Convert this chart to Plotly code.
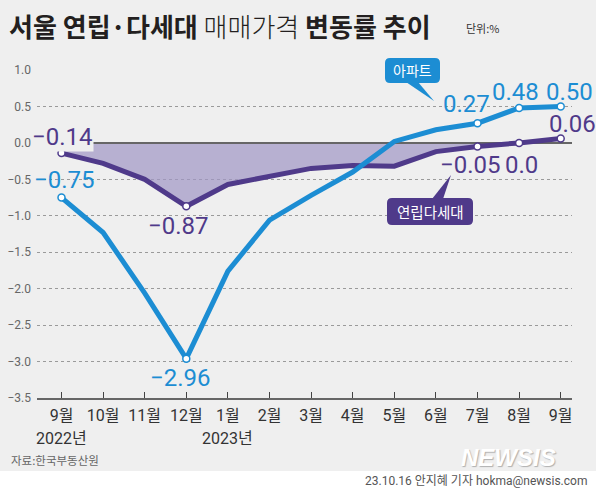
import plotly.graph_objects as go

# ---------------- data ----------------
months = ["9월", "10월", "11월", "12월", "1월", "2월", "3월", "4월", "5월", "6월", "7월", "8월", "9월"]
apt_values = [-0.75, -1.23, -2.06, -2.96, -1.76, -1.06, -0.72, -0.40, 0.02, 0.18, 0.27, 0.48, 0.50]
villa_values = [-0.14, -0.28, -0.50, -0.87, -0.57, -0.46, -0.35, -0.31, -0.32, -0.12, -0.05, 0.00, 0.06]
apt_label_idx = [0, 3, 10, 11, 12]
apt_label_text = ["−0.75", "−2.96", "0.27", "0.48", "0.50"]
villa_label_idx = [0, 3, 10, 11, 12]
villa_label_text = ["−0.14", "−0.87", "−0.05", "0.0", "0.06"]
year_labels = {0: "2022년", 4: "2023년"}
y_ticks = [1.0, 0.5, 0.0, -0.5, -1.0, -1.5, -2.0, -2.5, -3.0, -3.5]

# ---------------- style ----------------
BLUE = "#1c8dd3"
PURPLE = "#4f3a8a"
FILL = "rgba(160,150,196,0.70)"
BG = "#efefef"
NARROW = "Roboto, Liberation Sans Narrow, Noto Sans CJK KR, sans-serif"
KR = "Noto Sans CJK KR, Noto Sans, sans-serif"

W, H = 596, 491
L, R, T, B = 37, 572, 70, 398  # plot area pixels
X0_PX, DX_PX = 61.5, 41.6


def px(x):
    return (x - L) / (R - L)


def py(y):
    return (B - y) / (B - T)


x_idx = list(range(len(months)))
x_range = [(L - X0_PX) / DX_PX, (R - X0_PX) / DX_PX]
zero_end = (580 - X0_PX) / DX_PX

fig = go.Figure()

# zero baseline for fill
fig.add_trace(go.Scatter(x=x_idx, y=[0] * len(x_idx), mode="lines",
                         line=dict(width=0, color=BG), hoverinfo="skip", showlegend=False))
fig.add_trace(go.Scatter(x=x_idx, y=[min(v, 0) for v in villa_values], mode="lines",
                         line=dict(width=0), fill="tonexty", fillcolor=FILL,
                         hoverinfo="skip", showlegend=False))
# visible zero line (above fill, below data lines)
fig.add_trace(go.Scatter(x=[x_idx[0], zero_end], y=[0, 0], mode="lines", cliponaxis=False,
                         line=dict(width=2, color="#666"), hoverinfo="skip", showlegend=False))
# villa line
fig.add_trace(go.Scatter(x=x_idx, y=villa_values, mode="lines",
                         line=dict(color=PURPLE, width=5), showlegend=False))
# apartment line
fig.add_trace(go.Scatter(x=x_idx, y=apt_values, mode="lines",
                         line=dict(color=BLUE, width=5), showlegend=False))
# markers
fig.add_trace(go.Scatter(x=villa_label_idx, y=[villa_values[i] for i in villa_label_idx], mode="markers",
                         marker=dict(size=7, color="white", line=dict(color=PURPLE, width=1.5)),
                         showlegend=False, cliponaxis=False))
fig.add_trace(go.Scatter(x=apt_label_idx, y=[apt_values[i] for i in apt_label_idx], mode="markers",
                         marker=dict(size=7, color="white", line=dict(color=BLUE, width=1.5)),
                         showlegend=False, cliponaxis=False))

annotations = []
# value labels (pixel offsets from their points)
villa_shift = [(1, 16), (-7.5, -20), (-7, -18.5), (2, -22), (12, 14.5)]
apt_shift = [(3, 17.6), (-5.5, -19), (-11, 19), (-4, 16), (9, 14)]
for k, i in enumerate(villa_label_idx):
    annotations.append(dict(x=i, y=villa_values[i], xref="x", yref="y", text=villa_label_text[k],
                            showarrow=False, xshift=villa_shift[k][0], yshift=villa_shift[k][1],
                            xanchor="center", yanchor="middle",
                            font=dict(family=NARROW, size=24, color=PURPLE),
                            bgcolor=BG if k == 0 else None, borderpad=0))
for k, i in enumerate(apt_label_idx):
    annotations.append(dict(x=i, y=apt_values[i], xref="x", yref="y", text=apt_label_text[k],
                            showarrow=False, xshift=apt_shift[k][0], yshift=apt_shift[k][1],
                            xanchor="center", yanchor="middle",
                            font=dict(family=NARROW, size=24, color=BLUE)))

# year labels
for i, t in year_labels.items():
    annotations.append(dict(x=i, y=py(438), xref="x", yref="paper", text=t, showarrow=False,
                            xanchor="center", yanchor="middle",
                            font=dict(family=NARROW, size=16, color="#333")))

# title
annotations.append(dict(x=px(7), y=py(25), xref="paper", yref="paper", xanchor="left", yanchor="middle",
                        text="<b>서울 연립·다세대</b> <span style='font-weight:300'>매매가격</span> <b>변동률 추이</b>",
                        showarrow=False, font=dict(family=KR, size=26, color="#231f20")))
annotations.append(dict(x=px(464), y=py(28), xref="paper", yref="paper", xanchor="left", yanchor="middle",
                        text="단위:%", showarrow=False, font=dict(family=KR, size=11, color="#333")))
# source & credit
annotations.append(dict(x=px(9), y=py(460), xref="paper", yref="paper", xanchor="left", yanchor="middle",
                        text="자료:한국부동산원", showarrow=False, font=dict(family=KR, size=11.5, color="#666")))
annotations.append(dict(x=px(589), y=py(481), xref="paper", yref="paper", xanchor="right", yanchor="middle",
                        text="23.10.16 안지혜 기자 hokma@newsis.com", showarrow=False,
                        font=dict(family=NARROW, size=12, color="#555")))
annotations.append(dict(x=px(508), y=py(457), xref="paper", yref="paper", xanchor="center", yanchor="middle",
                        text="<b><i>NEWSIS</i></b>", showarrow=False,
                        font=dict(family="Liberation Sans, Arial, sans-serif", size=24, color="#ffffff",
                                  shadow="1px 1px 1px #b0b0b0")))
# callout box texts
annotations.append(dict(x=px(412.5), y=py(70.5), xref="paper", yref="paper", text="아파트", showarrow=False,
                        xanchor="center", yanchor="middle",
                        font=dict(family=KR, size=14, color="white")))
annotations.append(dict(x=px(430), y=py(211.5), xref="paper", yref="paper", text="연립다세대", showarrow=False,
                        xanchor="center", yanchor="middle",
                        font=dict(family=KR, size=14.5, color="white")))


def rounded_rect(x0, y0, x1, y1, r):
    a, b, c, d = px(x0), px(x1), py(y0), py(y1)
    rx = r / (R - L)
    ry = r / (B - T)
    return (f"M {a+rx},{c} L {b-rx},{c} Q {b},{c} {b},{c-ry} L {b},{d+ry} Q {b},{d} {b-rx},{d} "
            f"L {a+rx},{d} Q {a},{d} {a},{d+ry} L {a},{c-ry} Q {a},{c} {a+rx},{c} Z")


def tri(p1, p2, p3):
    return f"M {px(p1[0])},{py(p1[1])} L {px(p2[0])},{py(p2[1])} L {px(p3[0])},{py(p3[1])} Z"


shapes = [
    # white footer strip
    dict(type="rect", xref="paper", yref="paper", x0=px(0), x1=px(W), y0=py(471), y1=py(W),
         fillcolor="white", line=dict(width=0), layer="below"),
    # callout boxes
    dict(type="path", xref="paper", yref="paper", path=rounded_rect(385, 58, 440, 83, 5),
         fillcolor=BLUE, line=dict(width=0)),
    dict(type="path", xref="paper", yref="paper", path=tri((406, 82), (418, 82), (434, 101)),
         fillcolor=BLUE, line=dict(width=0)),
    dict(type="path", xref="paper", yref="paper", path=rounded_rect(387, 198, 473, 225, 5),
         fillcolor=PURPLE, line=dict(width=0)),
    dict(type="path", xref="paper", yref="paper", path=tri((432, 199), (443, 199), (451, 175)),
         fillcolor=PURPLE, line=dict(width=0)),
]

fig.update_layout(
    width=W, height=H,
    margin=dict(l=L, r=W - R, t=T, b=H - B, autoexpand=False),
    paper_bgcolor=BG, plot_bgcolor=BG,
    showlegend=False,
    annotations=annotations,
    shapes=shapes,
    xaxis=dict(range=x_range, tickvals=x_idx, ticktext=months, showgrid=False, zeroline=False,
               showline=True, linecolor="#666", linewidth=2, ticks="inside", ticklen=6,
               tickcolor="#444", tickwidth=1, ticklabelstandoff=2, automargin=False,
               tickfont=dict(family=NARROW, size=16, color="#333"), fixedrange=True),
    yaxis=dict(range=[-3.5, 1.0], tickvals=y_ticks,
               ticktext=[("−" if v < 0 else "") + f"{abs(v):.1f}" for v in y_ticks],
               showgrid=True, gridcolor="#9a9a9a", gridwidth=1, griddash="dot", zeroline=False,
               showline=False, ticks="", ticklabelstandoff=5, automargin=False,
               tickfont=dict(family=NARROW, size=12, color="#666"), fixedrange=True),
)

fig.write_html("out.html", config={"displayModeBar": False},
               post_script="document.body.style.margin='0';document.body.style.background='#efefef';")
